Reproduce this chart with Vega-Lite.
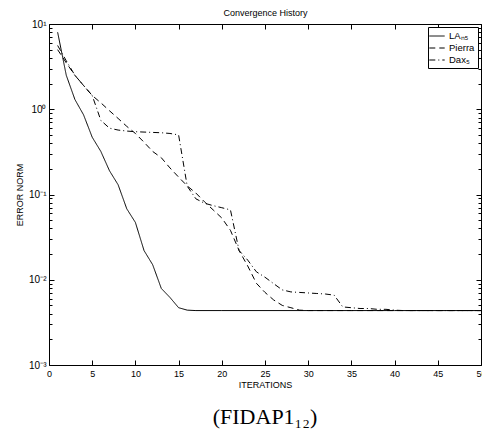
{
  "$schema": "https://vega.github.io/schema/vega-lite/v6.json",
  "width": 432,
  "height": 341,
  "autosize": {"type": "none"},
  "padding": {"left": 49, "top": 24, "right": 1, "bottom": 67},
  "background": "white",
  "title": {"text": "(FIDAP1₁₂)", "orient": "bottom", "anchor": "middle", "font": "Liberation Serif", "fontSize": 22, "fontWeight": "normal", "color": "black", "offset": 18},
  "config": {
    "view": {"stroke": "black", "strokeWidth": 1},
    "font": "Liberation Sans",
    "axis": {"domain": false, "grid": false, "tickColor": "black", "tickWidth": 1, "labelColor": "black", "titleColor": "black", "labelFont": "Liberation Sans", "titleFont": "Liberation Sans", "labelFontSize": 9, "titleFontSize": 9, "titleFontWeight": "normal", "labelOverlap": false, "labelFlush": false}
  },
  "datasets": {
    "d": [
      {"it": 1, "err": 8.0, "method": "LAₙ₅"}, {"it": 2, "err": 2.5, "method": "LAₙ₅"}, {"it": 3, "err": 1.3, "method": "LAₙ₅"}, {"it": 4, "err": 0.86, "method": "LAₙ₅"}, {"it": 5, "err": 0.47, "method": "LAₙ₅"}, {"it": 6, "err": 0.32, "method": "LAₙ₅"}, {"it": 7, "err": 0.19, "method": "LAₙ₅"}, {"it": 8, "err": 0.13, "method": "LAₙ₅"}, {"it": 9, "err": 0.068, "method": "LAₙ₅"}, {"it": 10, "err": 0.047, "method": "LAₙ₅"}, {"it": 11, "err": 0.022, "method": "LAₙ₅"}, {"it": 12, "err": 0.015, "method": "LAₙ₅"}, {"it": 13, "err": 0.0079, "method": "LAₙ₅"}, {"it": 14, "err": 0.0062, "method": "LAₙ₅"}, {"it": 15, "err": 0.0047, "method": "LAₙ₅"}, {"it": 16, "err": 0.0044, "method": "LAₙ₅"}, {"it": 17, "err": 0.00435, "method": "LAₙ₅"}, {"it": 20, "err": 0.00435, "method": "LAₙ₅"}, {"it": 25, "err": 0.00435, "method": "LAₙ₅"}, {"it": 30, "err": 0.00435, "method": "LAₙ₅"}, {"it": 35, "err": 0.00435, "method": "LAₙ₅"}, {"it": 40, "err": 0.00435, "method": "LAₙ₅"}, {"it": 45, "err": 0.00435, "method": "LAₙ₅"}, {"it": 50, "err": 0.00435, "method": "LAₙ₅"},
      {"it": 1, "err": 5.0, "method": "Pierra"}, {"it": 2, "err": 3.5, "method": "Pierra"}, {"it": 3, "err": 2.5, "method": "Pierra"}, {"it": 4, "err": 1.9, "method": "Pierra"}, {"it": 5, "err": 1.45, "method": "Pierra"}, {"it": 6, "err": 1.19, "method": "Pierra"}, {"it": 7, "err": 0.96, "method": "Pierra"}, {"it": 8, "err": 0.78, "method": "Pierra"}, {"it": 9, "err": 0.63, "method": "Pierra"}, {"it": 10, "err": 0.52, "method": "Pierra"}, {"it": 11, "err": 0.41, "method": "Pierra"}, {"it": 12, "err": 0.32, "method": "Pierra"}, {"it": 13, "err": 0.27, "method": "Pierra"}, {"it": 14, "err": 0.205, "method": "Pierra"}, {"it": 15, "err": 0.16, "method": "Pierra"}, {"it": 16, "err": 0.126, "method": "Pierra"}, {"it": 17, "err": 0.104, "method": "Pierra"}, {"it": 18, "err": 0.082, "method": "Pierra"}, {"it": 19, "err": 0.066, "method": "Pierra"}, {"it": 20, "err": 0.053, "method": "Pierra"}, {"it": 21, "err": 0.038, "method": "Pierra"}, {"it": 22, "err": 0.022, "method": "Pierra"}, {"it": 23, "err": 0.0145, "method": "Pierra"}, {"it": 24, "err": 0.0091, "method": "Pierra"}, {"it": 25, "err": 0.0071, "method": "Pierra"}, {"it": 26, "err": 0.0058, "method": "Pierra"}, {"it": 27, "err": 0.005, "method": "Pierra"}, {"it": 28, "err": 0.0047, "method": "Pierra"}, {"it": 29, "err": 0.0044, "method": "Pierra"}, {"it": 30, "err": 0.00435, "method": "Pierra"}, {"it": 35, "err": 0.00435, "method": "Pierra"}, {"it": 40, "err": 0.00435, "method": "Pierra"}, {"it": 45, "err": 0.00435, "method": "Pierra"}, {"it": 50, "err": 0.00435, "method": "Pierra"},
      {"it": 1, "err": 5.6, "method": "Dax₅"}, {"it": 2, "err": 3.7, "method": "Dax₅"}, {"it": 3, "err": 2.5, "method": "Dax₅"}, {"it": 4, "err": 1.9, "method": "Dax₅"}, {"it": 5, "err": 1.45, "method": "Dax₅"}, {"it": 6, "err": 0.74, "method": "Dax₅"}, {"it": 7, "err": 0.6, "method": "Dax₅"}, {"it": 8, "err": 0.57, "method": "Dax₅"}, {"it": 9, "err": 0.555, "method": "Dax₅"}, {"it": 10, "err": 0.545, "method": "Dax₅"}, {"it": 11, "err": 0.54, "method": "Dax₅"}, {"it": 12, "err": 0.535, "method": "Dax₅"}, {"it": 13, "err": 0.53, "method": "Dax₅"}, {"it": 14, "err": 0.52, "method": "Dax₅"}, {"it": 15, "err": 0.5, "method": "Dax₅"}, {"it": 16, "err": 0.125, "method": "Dax₅"}, {"it": 17, "err": 0.089, "method": "Dax₅"}, {"it": 18, "err": 0.079, "method": "Dax₅"}, {"it": 19, "err": 0.074, "method": "Dax₅"}, {"it": 20, "err": 0.07, "method": "Dax₅"}, {"it": 21, "err": 0.066, "method": "Dax₅"}, {"it": 22, "err": 0.022, "method": "Dax₅"}, {"it": 23, "err": 0.017, "method": "Dax₅"}, {"it": 24, "err": 0.0124, "method": "Dax₅"}, {"it": 25, "err": 0.0107, "method": "Dax₅"}, {"it": 26, "err": 0.009, "method": "Dax₅"}, {"it": 27, "err": 0.0076, "method": "Dax₅"}, {"it": 28, "err": 0.0072, "method": "Dax₅"}, {"it": 29, "err": 0.0071, "method": "Dax₅"}, {"it": 30, "err": 0.007, "method": "Dax₅"}, {"it": 31, "err": 0.0069, "method": "Dax₅"}, {"it": 32, "err": 0.0068, "method": "Dax₅"}, {"it": 33, "err": 0.0066, "method": "Dax₅"}, {"it": 34, "err": 0.0048, "method": "Dax₅"}, {"it": 35, "err": 0.0047, "method": "Dax₅"}, {"it": 36, "err": 0.0046, "method": "Dax₅"}, {"it": 37, "err": 0.0046, "method": "Dax₅"}, {"it": 38, "err": 0.0045, "method": "Dax₅"}, {"it": 39, "err": 0.0045, "method": "Dax₅"}, {"it": 40, "err": 0.0044, "method": "Dax₅"}, {"it": 41, "err": 0.00435, "method": "Dax₅"}, {"it": 45, "err": 0.00435, "method": "Dax₅"}, {"it": 50, "err": 0.00435, "method": "Dax₅"}
    ]
  },
  "data": {"name": "d"},
  "layer": [
    {
      "mark": {"type": "line", "color": "black", "strokeWidth": 1},
      "encoding": {
        "x": {"field": "it", "type": "quantitative", "scale": {"domain": [0, 50], "nice": false, "zero": false},
          "axis": {"orient": "bottom", "values": [0, 5, 10, 15, 20, 25, 30, 35, 40, 45, 50], "title": "ITERATIONS", "tickSize": -5, "labelPadding": 9, "titlePadding": 2}},
        "y": {"field": "err", "type": "quantitative", "scale": {"type": "log", "domain": [0.001, 10], "nice": false},
          "axis": {"orient": "left", "values": [0.001, 0.002, 0.003, 0.004, 0.005, 0.006, 0.007, 0.008, 0.009, 0.01, 0.02, 0.03, 0.04, 0.05, 0.06, 0.07, 0.08, 0.09, 0.1, 0.2, 0.3, 0.4, 0.5, 0.6, 0.7, 0.8, 0.9, 1, 2, 3, 4, 5, 6, 7, 8, 9, 10],
            "labelExpr": "datum.value == 10 ? '10¹' : datum.value == 1 ? '10⁰' : datum.value == 0.1 ? '10⁻¹' : datum.value == 0.01 ? '10⁻²' : datum.value == 0.001 ? '10⁻³' : ''",
            "labelFontSize": 10,
            "tickSize": {"condition": {"test": "abs(log(datum.value)/LN10 - round(log(datum.value)/LN10)) < 0.0001", "value": -5}, "value": -3},
            "title": "ERROR NORM", "labelPadding": 8, "titlePadding": 4}},
        "strokeDash": {"field": "method", "type": "nominal",
          "scale": {"domain": ["LAₙ₅", "Pierra", "Dax₅"], "range": [[1, 0], [6, 4], [6, 3, 1, 3]]},
          "legend": {"title": null, "orient": "top-right", "offset": 3, "padding": 3, "strokeColor": "black", "fillColor": "white", "cornerRadius": 0, "symbolType": "M-1.4,0H1.4", "symbolStrokeColor": "black", "symbolStrokeWidth": 1, "symbolSize": 121, "labelFontSize": 9.5, "labelFont": "Liberation Sans", "labelColor": "black", "rowPadding": 1, "labelOffset": 6}}
      }
    },
    {
      "mark": {"type": "line", "opacity": 0},
      "encoding": {
        "x": {"field": "it", "type": "quantitative",
          "axis": {"orient": "top", "values": [0, 5, 10, 15, 20, 25, 30, 35, 40, 45, 50], "labels": false, "tickSize": -5, "title": "Convergence History", "titlePadding": 6}},
        "y": {"field": "err", "type": "quantitative",
          "axis": {"orient": "right", "values": [0.001, 0.002, 0.003, 0.004, 0.005, 0.006, 0.007, 0.008, 0.009, 0.01, 0.02, 0.03, 0.04, 0.05, 0.06, 0.07, 0.08, 0.09, 0.1, 0.2, 0.3, 0.4, 0.5, 0.6, 0.7, 0.8, 0.9, 1, 2, 3, 4, 5, 6, 7, 8, 9, 10],
            "labels": false, "title": null,
            "tickSize": {"condition": {"test": "abs(log(datum.value)/LN10 - round(log(datum.value)/LN10)) < 0.0001", "value": -5}, "value": -3}}},
        "detail": {"field": "method", "type": "nominal"}
      }
    }
  ],
  "resolve": {"axis": {"x": "independent", "y": "independent"}}
}
